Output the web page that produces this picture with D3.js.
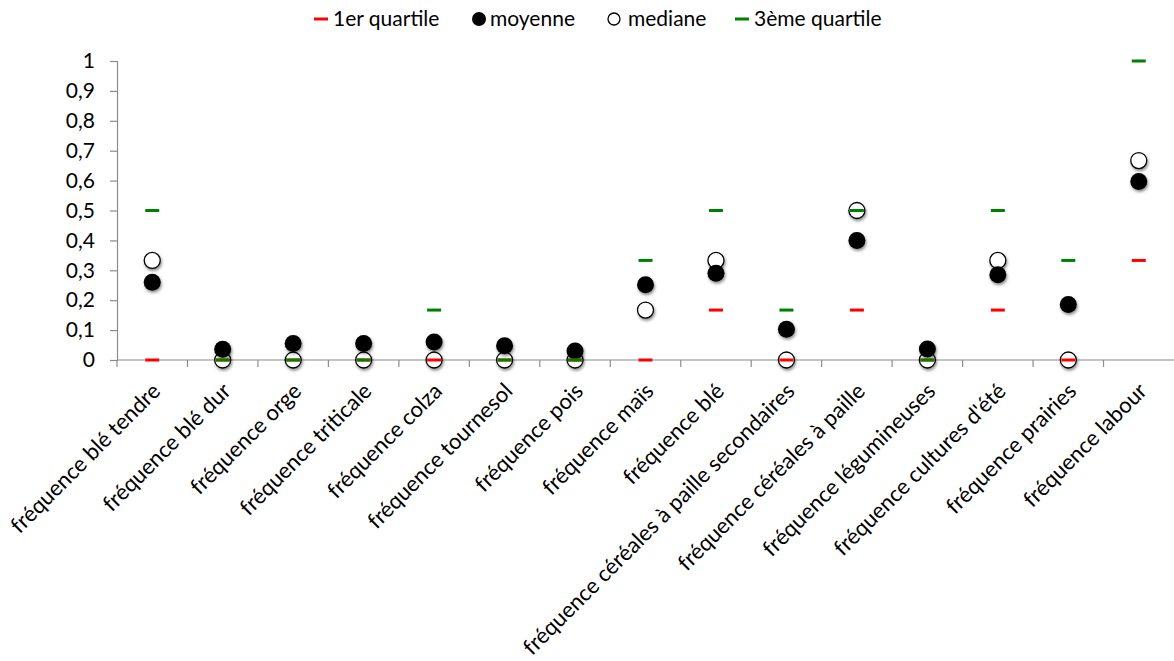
<!DOCTYPE html>
<html>
<head>
    <meta charset="utf-8">
    <title>Fréquences</title>
    <script src="https://d3js.org/d3.v7.min.js"></script>
    <style>
        body { margin: 0; background: #fff; }
        text { font-family: Lato, "Open Sans", sans-serif; fill: #000; }
    </style>
</head>
<body>
    <div id="chart"></div>
    <script>
        // chart values
        const categories = ["fréquence blé tendre", "fréquence blé dur", "fréquence orge", "fréquence triticale",
            "fréquence colza", "fréquence tournesol", "fréquence pois", "fréquence maïs", "fréquence blé",
            "fréquence céréales à paille secondaires", "fréquence céréales à paille", "fréquence légumineuses",
            "fréquence cultures d'été", "fréquence prairies", "fréquence labour"];
        const quartile1 = [0, 0, 0, 0, 0, 0, 0, 0, 0.167, 0, 0.167, 0, 0.167, 0, 0.333];
        const moyenne = [0.26, 0.036, 0.055, 0.055, 0.06, 0.048, 0.03, 0.252, 0.29, 0.103, 0.40, 0.037, 0.285, 0.186, 0.597];
        const mediane = [0.333, 0, 0, 0, 0, 0, 0, 0.167, 0.333, 0, 0.5, 0, 0.333, 0, 0.667];
        const quartile3 = [0.5, 0, 0, 0, 0.167, 0, 0, 0.333, 0.5, 0.167, 0.5, 0, 0.5, 0.333, 1];
        const yTicks = [0, 0.1, 0.2, 0.3, 0.4, 0.5, 0.6, 0.7, 0.8, 0.9, 1];

        const W = 1174, H = 661;
        const margin = { top: 61, right: 0, bottom: 301, left: 117 };
        const width = W - margin.left - margin.right,
              height = H - margin.top - margin.bottom;

        const svg = d3.select("#chart").append("svg")
            .attr("width", W).attr("height", H);

        // soft shadow under the markers
        const defs = svg.append("defs");
        const f = defs.append("filter").attr("id", "shadow")
            .attr("x", "-50%").attr("y", "-50%").attr("width", "200%").attr("height", "200%");
        f.append("feDropShadow").attr("dx", 1).attr("dy", 2).attr("stdDeviation", 1.5)
            .attr("flood-color", "#000").attr("flood-opacity", 0.45);

        const g = svg.append("g").attr("transform", `translate(${margin.left},${margin.top})`);

        const x = d3.scaleBand().domain(categories).range([0, width]);
        const y = d3.scaleLinear().domain([0, 1]).range([height, 0]);

        // Y axis
        const yAxis = g.append("g")
            .call(d3.axisLeft(y).tickValues(yTicks).tickSize(7)
                .tickFormat(d => d3.format(".1~f")(d).replace(".", ",")));
        yAxis.select(".domain").attr("stroke", "#8c8c8c").attr("stroke-width", 1.2);
        yAxis.selectAll(".tick line").attr("stroke", "#8c8c8c").attr("stroke-width", 1.2);
        yAxis.selectAll(".tick text").attr("x", -22).style("font-size", "21px");

        // X axis: ticks on category boundaries
        const xAxis = g.append("g").attr("transform", `translate(0,${height})`);
        xAxis.append("line").attr("x1", 0).attr("x2", width)
            .attr("stroke", "#8c8c8c").attr("stroke-width", 1.2);
        xAxis.selectAll(".xtick").data(categories).enter().append("line")
            .attr("class", "xtick")
            .attr("x1", d => x(d)).attr("x2", d => x(d))
            .attr("y1", 0).attr("y2", 7)
            .attr("stroke", "#8c8c8c").attr("stroke-width", 1.2);
        xAxis.selectAll(".xlabel").data(categories).enter().append("text")
            .attr("class", "xlabel")
            .attr("transform", d => `translate(${x(d) + x.bandwidth() / 2 + 4},${27}) rotate(-45)`)
            .style("text-anchor", "end")
            .style("font-size", "22px")
            .attr("dy", "0.35em")
            .text(d => d);

        const cx = i => x(categories[i]) + x.bandwidth() / 2;
        const idx = d3.range(categories.length);
        const dashW = 14;

        // median (white), then mean (black), then quartile dashes on top
        g.append("g").selectAll("circle").data(idx).enter().append("circle")
            .attr("cx", cx).attr("cy", i => y(mediane[i])).attr("r", 8)
            .attr("fill", "#fff").attr("stroke", "#000").attr("stroke-width", 1.3)
            .attr("filter", "url(#shadow)");
        g.append("g").selectAll("circle").data(idx).enter().append("circle")
            .attr("cx", cx).attr("cy", i => y(moyenne[i])).attr("r", 8.5)
            .attr("fill", "#000")
            .attr("filter", "url(#shadow)");
        g.append("g").selectAll("rect").data(idx).enter().append("rect")
            .attr("x", i => cx(i) - dashW / 2).attr("y", i => y(quartile1[i]) - 1.5)
            .attr("width", dashW).attr("height", 3).attr("fill", "#ff0000");
        g.append("g").selectAll("rect").data(idx).enter().append("rect")
            .attr("x", i => cx(i) - dashW / 2).attr("y", i => y(quartile3[i]) - 1.5)
            .attr("width", dashW).attr("height", 3).attr("fill", "#008000");

        // Legend
        const legend = svg.append("g").attr("transform", "translate(0,19)");
        legend.append("rect").attr("x", 314).attr("y", -1.5).attr("width", 14).attr("height", 3).attr("fill", "#ff0000");
        legend.append("text").attr("x", 333).attr("dy", "0.35em").style("font-size", "21px").text("1er quartile");
        legend.append("circle").attr("cx", 479).attr("cy", 0).attr("r", 7).attr("fill", "#000");
        legend.append("text").attr("x", 490).attr("dy", "0.35em").style("font-size", "21px").text("moyenne");
        legend.append("circle").attr("cx", 614).attr("cy", 0).attr("r", 6).attr("fill", "#fff")
            .attr("stroke", "#000").attr("stroke-width", 1.3);
        legend.append("text").attr("x", 628).attr("dy", "0.35em").style("font-size", "21px").text("mediane");
        legend.append("rect").attr("x", 735).attr("y", -1.5).attr("width", 14).attr("height", 3).attr("fill", "#008000");
        legend.append("text").attr("x", 754).attr("dy", "0.35em").style("font-size", "21px").text("3ème quartile");
    </script>
</body>
</html>
